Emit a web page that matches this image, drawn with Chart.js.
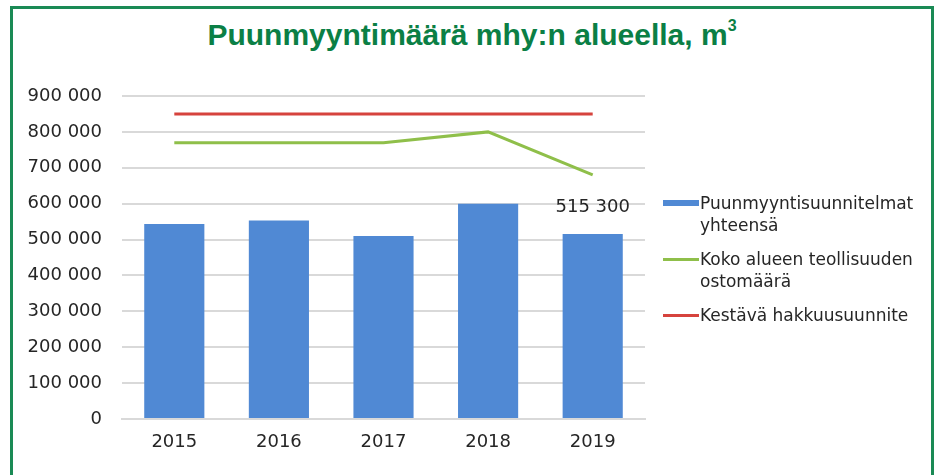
<!DOCTYPE html>
<html>
<head>
<meta charset="utf-8">
<script src="https://cdn.jsdelivr.net/npm/chart.js@4"></script>
<style>
  body { margin: 0; background: #fff; }
  #wrap { position: relative; width: 939px; height: 475px; overflow: hidden; }
  #frame { position: absolute; left: 10px; top: 6px; width: 918px; height: 480px;
           border: 3px solid #1a8a55; border-bottom: none; }
  #title { position: absolute; left: 0; top: 18px; width: 944px; text-align: center;
           font-family: "Liberation Sans", sans-serif; font-weight: bold;
           font-size: 30px; letter-spacing: 0; color: #0b7f45; }
  #title sup { font-size: 16px; position: relative; top: -3px; }
  #chart { position: absolute; left: 0; top: 0; }
  .leg { position: absolute; left: 663px; font-family: "DejaVu Sans", sans-serif; font-size: 17px;
         color: #262626; line-height: 22px; }
  .leg span { position: absolute; left: 0; width: 36px; }
  .leg div { margin-left: 37px; white-space: nowrap; }
</style>
</head>
<body>
<div id="wrap">
  <div id="frame"></div>
  <div id="title">Puunmyyntimäärä mhy:n alueella, m<sup>3</sup></div>
  <canvas id="chart" width="939" height="475"></canvas>
  <div id="legend"></div>
</div>
<script>
var years = ['2015', '2016', '2017', '2018', '2019'];
var myyntisuunnitelmat = [543000, 553000, 510000, 600000, 515300];
var teollisuudenOstot = [770000, 770000, 770000, 800000, 680000];
var hakkuusuunnite = [850000, 850000, 850000, 850000, 850000];
var yTicks = [0, 100000, 200000, 300000, 400000, 500000, 600000, 700000, 800000, 900000];

var colBlue = '#5089d4';
var colGreen = '#8fbf4a';
var colRed = '#d6433d';

function fmt(v) {
    return String(v).replace(/\B(?=(\d{3})+(?!\d))/g, ' ');
}

// legend with wrapped labels
var legendItems = [
    { lines: ['Puunmyyntisuunnitelmat', 'yhteensä'], color: colBlue, h: 6, top: 192 },
    { lines: ['Koko alueen teollisuuden', 'ostomäärä'], color: colGreen, h: 3, top: 248 },
    { lines: ['Kestävä hakkuusuunnite'], color: colRed, h: 3, top: 304 }
];
var legendHtml = '';
legendItems.forEach(function (it) {
    legendHtml += '<div class="leg" style="top:' + it.top + 'px">' +
        '<span style="top:' + (11 - it.h / 2) + 'px;height:' + it.h + 'px;background:' + it.color + '"></span>' +
        '<div>' + it.lines.join('<br>') + '</div></div>';
});
document.getElementById('legend').innerHTML = legendHtml;

// value label above last bar
var lastBarLabel = {
    id: 'lastBarLabel',
    afterDatasetsDraw: function (chart) {
        var meta = chart.getDatasetMeta(2);
        var i = myyntisuunnitelmat.length - 1;
        var bar = meta.data[i];
        var ctx = chart.ctx;
        ctx.save();
        ctx.font = '18px "DejaVu Sans"';
        ctx.fillStyle = '#262626';
        ctx.textAlign = 'center';
        ctx.textBaseline = 'bottom';
        ctx.fillText(fmt(myyntisuunnitelmat[i]), bar.x, bar.y - 18);
        ctx.restore();
    }
};

var ctx = document.getElementById('chart').getContext('2d');
new Chart(ctx, {
    type: 'bar',
    data: {
        labels: years,
        datasets: [
            {
                type: 'line',
                label: 'Kestävä hakkuusuunnite',
                data: hakkuusuunnite,
                borderColor: colRed,
                borderWidth: 3,
                pointRadius: 0,
                tension: 0,
                order: 0
            },
            {
                type: 'line',
                label: 'Koko alueen teollisuuden ostomäärä',
                data: teollisuudenOstot,
                borderColor: colGreen,
                borderWidth: 3,
                pointRadius: 0,
                tension: 0,
                order: 1
            },
            {
                label: 'Puunmyyntisuunnitelmat yhteensä',
                data: myyntisuunnitelmat,
                backgroundColor: colBlue,
                categoryPercentage: 1,
                barPercentage: 0.575,
                order: 2
            }
        ]
    },
    options: {
        responsive: false,
        animation: false,
        layout: { padding: { left: 10, right: 294, top: 96, bottom: 0 } },
        plugins: {
            legend: { display: false },
            tooltip: { enabled: false }
        },
        scales: {
            y: {
                min: 0,
                max: 900000,
                afterBuildTicks: function (scale) {
                    scale.ticks = yTicks.map(function (v) { return { value: v }; });
                },
                afterFit: function (scale) { scale.width = 112; },
                grid: { color: '#d9d9d9', lineWidth: 2, drawTicks: false },
                border: { display: false },
                ticks: {
                    padding: 20,
                    color: '#262626',
                    font: { family: 'DejaVu Sans', size: 18 },
                    callback: function (v) { return fmt(v); }
                }
            },
            x: {
                afterFit: function (scale) { scale.height = 56; },
                grid: { display: false, drawTicks: false },
                border: { color: '#d9d9d9', width: 2 },
                ticks: {
                    padding: 13,
                    color: '#262626',
                    font: { family: 'DejaVu Sans', size: 18 }
                }
            }
        }
    },
    plugins: [lastBarLabel]
});
</script>
</body>
</html>
